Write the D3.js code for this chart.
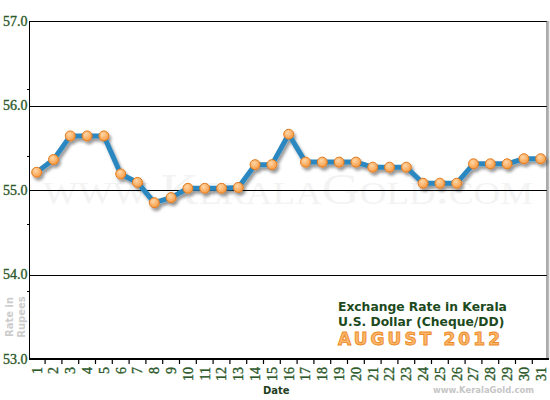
<!DOCTYPE html>
<html>
<head>
<meta charset="utf-8">
<script src="https://cdn.jsdelivr.net/npm/d3@7/dist/d3.min.js"></script>
<style>
  html, body { margin: 0; padding: 0; background: #fff; }
  svg { display: block; }
</style>
</head>
<body>
<svg id="chart" width="550" height="400"></svg>
<script>
// exchange rate, US dollar (cheque/DD), Kerala, August 2012
var days = [1,2,3,4,5,6,7,8,9,10,11,12,13,14,15,16,17,18,19,20,21,22,23,24,25,26,27,28,29,30,31]
var rates = [55.21,55.36,55.64,55.64,55.64,55.19,55.09,54.85,54.91,55.02,55.02,55.02,55.03,55.30,55.30,55.66,
             55.33,55.33,55.33,55.33,55.27,55.27,55.27,55.08,55.08,55.08,55.31,55.31,55.31,55.37,55.37]
var yTicks = [53, 54, 55, 56, 57]
var yMinorTicks = [53.8, 54.6, 55.4, 56.2]
var titleLines = ["Exchange Rate in Kerala", "U.S. Dollar (Cheque/DD)"]
var monthLabel = "AUGUST 2012"

function drawChart() {

  var svg = d3.select("#chart")
  var plotLeft = 29.5, plotRight = 547, plotTop = 21, plotBottom = 359

  var x = d3.scalePoint().domain(days).range([36.7, 540.7])
  var y = d3.scaleLinear().domain([53, 57]).range([plotBottom, plotTop])
  var step = x.step()

  var green = "#2d5a2b"
  var serif = "'Liberation Serif', 'Times New Roman', serif"
  var sans = "'DejaVu Sans', Verdana, sans-serif"

  var defs = svg.append("defs")
  var shadow = defs.append("filter").attr("id", "shadow")
      .attr("x", "-20%").attr("y", "-20%").attr("width", "140%").attr("height", "160%")
  shadow.append("feDropShadow")
      .attr("dx", 2).attr("dy", 3).attr("stdDeviation", 1.6)
      .attr("flood-color", "#000").attr("flood-opacity", 0.4)

  var grad = defs.append("radialGradient").attr("id", "dot")
      .attr("cx", "40%").attr("cy", "35%").attr("r", "65%")
  grad.append("stop").attr("offset", "0%").attr("stop-color", "#ffd7a8")
  grad.append("stop").attr("offset", "100%").attr("stop-color", "#f79a42")

  // watermark
  svg.append("text")
      .attr("x", 43).attr("y", 204)
      .attr("textLength", 490).attr("lengthAdjust", "spacingAndGlyphs")
      .style("font-family", serif)
      .style("font-size", "44px")
      .style("font-variant", "small-caps")
      .style("fill", "#f3f3f3")
      .text("www.KeralaGold.com")

  // gridlines + y labels
  var yAxis = svg.append("g")
      .attr("transform", "translate(" + plotLeft + ",0)")
      .call(d3.axisLeft(y).tickValues(yTicks).tickSize(-(plotRight - plotLeft)).tickPadding(2).tickFormat(d3.format(".1f")))
  yAxis.select(".domain").remove()
  yAxis.selectAll("line")
      .attr("stroke", "#000").attr("stroke-width", 1)
      .attr("shape-rendering", "crispEdges")
  yAxis.selectAll("text")
      .style("font-family", serif)
      .style("font-size", "14px")
      .style("fill", green)
      .style("stroke", green).style("stroke-width", 0.35)

  var yMinor = svg.append("g")
      .attr("transform", "translate(" + plotLeft + ",0)")
      .call(d3.axisLeft(y).tickValues(yMinorTicks).tickSize(3).tickFormat(""))
  yMinor.select(".domain").remove()
  yMinor.selectAll("line").attr("stroke", "#000").attr("shape-rendering", "crispEdges")

  // frame
  svg.append("line").attr("x1", plotLeft).attr("x2", plotLeft).attr("y1", plotTop).attr("y2", plotBottom + 0.5)
      .attr("stroke", "#000").attr("stroke-width", 1.4).attr("shape-rendering", "crispEdges")
  svg.append("line").attr("x1", plotRight).attr("x2", plotRight).attr("y1", plotTop).attr("y2", plotBottom)
      .attr("stroke", "#555").attr("stroke-width", 1)
  svg.append("line").attr("x1", plotRight + 1.5).attr("x2", plotRight + 1.5).attr("y1", plotTop).attr("y2", plotBottom)
      .attr("stroke", "#bbb").attr("stroke-width", 1.5)
  svg.append("line").attr("x1", plotLeft).attr("x2", plotRight + 2).attr("y1", plotBottom).attr("y2", plotBottom)
      .attr("stroke", "#000").attr("stroke-width", 1.6).attr("shape-rendering", "crispEdges")

  // x ticks between days
  svg.append("g").selectAll("line")
      .data(days.slice(0, -1))
      .join("line")
      .attr("x1", d => x(d) + step / 2).attr("x2", d => x(d) + step / 2)
      .attr("y1", plotBottom).attr("y2", plotBottom + 5)
      .attr("stroke", "#000").attr("stroke-width", 1.2)

  // x labels
  svg.append("g").selectAll("text")
      .data(days)
      .join("text")
      .attr("transform", d => "translate(" + x(d) + ",367) rotate(-90)")
      .attr("text-anchor", "end")
      .attr("dy", "0.35em")
      .style("font-family", serif)
      .style("font-size", "14px")
      .style("fill", green)
      .style("stroke", green).style("stroke-width", 0.35)
      .text(d => d)

  // series
  var line = d3.line().x((d, i) => x(days[i])).y(d => y(d))
  var series = svg.append("g").attr("filter", "url(#shadow)")
  series.append("path")
      .datum(rates)
      .attr("d", line)
      .attr("fill", "none")
      .attr("stroke", "#2b87bf")
      .attr("stroke-width", 5)
      .attr("stroke-linejoin", "round")
  series.selectAll("circle")
      .data(rates)
      .join("circle")
      .attr("cx", (d, i) => x(days[i]))
      .attr("cy", d => y(d))
      .attr("r", 5)
      .attr("fill", "url(#dot)")
      .attr("stroke", "#e27a1e")
      .attr("stroke-width", 1)

  // axis titles
  svg.append("text")
      .attr("x", 263).attr("y", 394)
      .style("font-family", sans)
      .style("font-weight", "bold").style("font-size", "10px")
      .style("fill", "#1f401f")
      .text("Date")

  svg.append("text")
      .attr("transform", "translate(13,317) rotate(-90)")
      .attr("text-anchor", "middle")
      .style("font-family", sans)
      .style("font-weight", "bold").style("font-size", "10px")
      .style("fill", "#cccccc")
      .text("Rate in")
  svg.append("text")
      .attr("transform", "translate(25,317) rotate(-90)")
      .attr("text-anchor", "middle")
      .style("font-family", sans)
      .style("font-weight", "bold").style("font-size", "10px")
      .style("fill", "#cccccc")
      .text("Rupees")

  // title block
  titleLines.forEach(function(t, i) {
      svg.append("text")
          .attr("x", 338).attr("y", 311 + i * 15)
          .style("font-family", sans)
          .style("font-weight", "bold").style("font-size", "12.3px")
          .style("fill", "#1d4a1d")
          .text(t)
  })
  svg.append("text")
      .attr("x", 338).attr("y", 345)
      .attr("textLength", 162).attr("lengthAdjust", "spacing")
      .style("font-family", sans)
      .style("font-weight", "bold").style("font-size", "17px")
      .style("fill", "#fab76c")
      .style("stroke", "#ee8a26").style("stroke-width", 0.9)
      .text(monthLabel)

  svg.append("text")
      .attr("x", 433).attr("y", 392.5)
      .attr("textLength", 101).attr("lengthAdjust", "spacingAndGlyphs")
      .style("font-family", sans)
      .style("font-weight", "bold").style("font-size", "8.4px")
      .style("fill", "#c6c6c6")
      .text("www.KeralaGold.com")
}

drawChart()
</script>
</body>
</html>
